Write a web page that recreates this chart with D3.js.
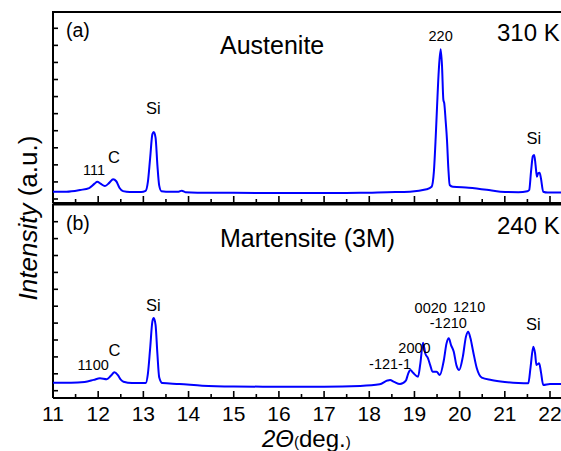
<!DOCTYPE html>
<html>
<head>
<meta charset="utf-8">
<script src="https://cdn.jsdelivr.net/npm/d3@7"></script>
<style>
    body { margin: 0; background: #fff; }
    svg text { font-family: "Liberation Sans", Arial, sans-serif; fill: #000; }
    .frame line, .frame path { stroke: #000; }
</style>
</head>
<body>
<div id="chart"></div>
<script>

// 2-theta positions (deg.) and intensity (counts)
const austeniteAngle = [11.00, 11.30, 11.60, 11.80, 11.92, 11.98, 12.05, 12.15, 12.25, 12.33, 12.40, 12.47, 12.55, 12.70,
    12.95, 13.05, 13.10, 13.15, 13.20, 13.23, 13.27, 13.31, 13.35, 13.40, 13.60, 13.78, 13.85, 13.93, 14.20, 15.00,
    16.00, 17.00, 17.80, 18.40, 18.90, 19.27, 19.38, 19.43, 19.47, 19.50, 19.54, 19.58, 19.61, 19.64, 19.66, 19.69,
    19.72, 19.75, 19.78, 19.85, 20.20, 20.60, 20.90, 21.30, 21.50, 21.54, 21.58, 21.62, 21.65, 21.68, 21.71, 21.74,
    21.77, 21.80, 21.85, 21.95, 22.30];
const austeniteCounts = [214, 214, 264, 320, 450, 507, 450, 381, 480, 577, 520, 330, 230, 205,
    205, 240, 500, 1200, 1900, 1962, 1800, 1000, 400, 230, 210, 215, 243, 200, 185, 180,
    178, 176, 180, 200, 214, 284, 360, 800, 1800, 2703, 3800, 4385, 3900, 2900, 2803, 2300,
    1728, 900, 410, 360, 330, 270, 214, 200, 230, 264, 800, 1250, 1289, 1000, 653, 760,
    770, 600, 214, 190, 190];

const martensiteAngle = [11.00, 11.40, 11.70, 11.90, 12.04, 12.19, 12.28, 12.36, 12.44, 12.50, 12.56, 12.75, 13.05,
    13.10, 13.15, 13.20, 13.23, 13.27, 13.31, 13.35, 13.42, 13.80, 14.30, 15.00, 16.00, 17.00, 17.80, 18.23, 18.40,
    18.46, 18.55, 18.68, 18.81, 18.86, 18.91, 18.97, 19.08, 19.13, 19.19, 19.24, 19.30, 19.35, 19.40, 19.49, 19.56,
    19.65, 19.71, 19.76, 19.81, 19.87, 19.93, 19.99, 20.07, 20.14, 20.19, 20.24, 20.30, 20.38, 20.49, 20.70, 21.00,
    21.30, 21.52, 21.57, 21.63, 21.67, 21.70, 21.76, 21.80, 21.85, 22.00, 22.30];
const martensiteCounts = [237, 237, 260, 320, 367, 337, 440, 544, 450, 330, 266, 225, 225,
    500, 1250, 2050, 2151, 1950, 1100, 400, 225, 200, 150, 125, 118, 118, 140, 189, 300,
    317, 260, 198, 300, 500, 612, 530, 414, 800, 1420, 1100, 958, 750, 562, 562, 464,
    900, 1400, 1550, 1350, 1154, 750, 612, 1000, 1600, 1746, 1550, 1154, 663, 385, 317, 260,
    228, 219, 700, 1302, 1100, 760, 811, 550, 169, 198, 198];

// peak labels [2theta, counts, text]
const austeniteLabels = [[11.91, 710, "111"], [12.35, 1060, "C"], [13.22, 2490, "Si"], [19.58, 4630, "220"], [21.64, 1600, "Si"]];
const martensiteLabels = [[11.89, 610, "1100"], [12.36, 1040, "C"], [13.22, 2350, "Si"], [18.46, 630, "-121-1"],
    [19.00, 1110, "2000"], [19.36, 2290, "0020"], [19.75, 1850, "-1210"], [20.21, 2340, "1210"], [21.63, 1790, "Si"]];

const majorTicks = d3.range(11, 23);
const minorTicks = d3.range(11.5, 23, 1);
const yTickValues = d3.range(0, 5001, 500);

class XrdPanel {
    constructor(svg, opts) {
        this.svg = svg;
        this.opts = opts;
    }

    initVis() {
        let vis = this;
        let o = vis.opts;

        vis.x = d3.scaleLinear().domain([11, 22]).range([53, 550]);
        vis.y = d3.scaleLinear().domain(o.yDomain).range([o.bottom, o.top]);

        vis.g = vis.svg.append("g").attr("class", "frame");

        // frame (right edge is off the picture)
        vis.g.append("path")
            .attr("d", `M${vis.x(11)},${o.bottom}V${o.top}H${vis.x(22.6)}`)
            .attr("fill", "none").attr("stroke-width", 2);
        vis.g.append("line")
            .attr("x1", vis.x(11)).attr("x2", vis.x(22.6))
            .attr("y1", o.bottom).attr("y2", o.bottom)
            .attr("stroke-width", 2);

        // x ticks pointing in
        vis.g.selectAll(".xmaj").data(majorTicks).enter().append("line")
            .attr("x1", d => vis.x(d)).attr("x2", d => vis.x(d))
            .attr("y1", o.bottom).attr("y2", o.bottom - 7)
            .attr("stroke-width", 1.6);
        vis.g.selectAll(".xmin").data(minorTicks).enter().append("line")
            .attr("x1", d => vis.x(d)).attr("x2", d => vis.x(d))
            .attr("y1", o.bottom).attr("y2", o.bottom - 4)
            .attr("stroke-width", 1.6);

        // y ticks pointing in, no labels
        vis.g.selectAll(".ytick").data(yTickValues).enter().append("line")
            .attr("x1", vis.x(11)).attr("x2", vis.x(11) + 5)
            .attr("y1", d => vis.y(d)).attr("y2", d => vis.y(d))
            .attr("stroke-width", 1.6);

        if (o.showXLabels) {
            vis.svg.selectAll(".xlab").data(majorTicks).enter().append("text")
                .attr("x", d => vis.x(d)).attr("y", o.bottom + 23)
                .attr("text-anchor", "middle")
                .attr("font-size", 21)
                .text(d => d);
        }

        vis.updateVis();
    }

    updateVis() {
        let vis = this;
        let o = vis.opts;

        const line = d3.line()
            .x(d => vis.x(d[0]))
            .y(d => vis.y(d[1]))
            .curve(d3.curveMonotoneX);

        vis.svg.append("path")
            .datum(d3.zip(o.angle, o.counts))
            .attr("d", line)
            .attr("fill", "none")
            .attr("stroke", "#0000ff")
            .attr("stroke-width", 2)
            .attr("stroke-linejoin", "round");

        vis.svg.selectAll(null).data(o.labels).enter().append("text")
            .attr("x", d => vis.x(d[0])).attr("y", d => vis.y(d[1]))
            .attr("text-anchor", "middle")
            .attr("font-size", d => (d[2] === "Si" || d[2] === "C") ? 16.5 : 14.5)
            .text(d => d[2]);

        vis.svg.append("text").attr("x", 66).attr("y", o.top + 25)
            .attr("font-size", 19.5).text(o.tag);
        vis.svg.append("text").attr("x", 220).attr("y", o.top + 42)
            .attr("font-size", 25).text(o.phase);
        vis.svg.append("text").attr("x", 497).attr("y", o.top + 29)
            .attr("font-size", 24).text(o.temp);
    }
}

const svg = d3.select("#chart").append("svg")
    .attr("width", 561).attr("height", 451);

const panelA = new XrdPanel(svg, {
    top: 12, bottom: 203, yDomain: [-117, 5477],
    angle: austeniteAngle, counts: austeniteCounts, labels: austeniteLabels,
    tag: "(a)", phase: "Austenite", temp: "310 K", showXLabels: false
});
panelA.initVis();

const panelB = new XrdPanel(svg, {
    top: 204.5, bottom: 398, yDomain: [-216, 5509],
    angle: martensiteAngle, counts: martensiteCounts, labels: martensiteLabels,
    tag: "(b)", phase: "Martensite (3M)", temp: "240 K", showXLabels: true
});
panelB.initVis();

// axis titles
const yTitle = svg.append("text")
    .attr("transform", "translate(37,218) rotate(-90)")
    .attr("text-anchor", "middle")
    .attr("font-size", 26);
yTitle.append("tspan").attr("font-style", "italic").text("Intensity");
yTitle.append("tspan").text(" (a.u.)");

const xTitle = svg.append("text")
    .attr("x", 262).attr("y", 447)
    .attr("font-size", 24);
xTitle.append("tspan").attr("font-style", "italic").text("2\u0398");
xTitle.append("tspan").attr("font-size", 15).text("(");
xTitle.append("tspan").text("deg.");
xTitle.append("tspan").attr("font-size", 15).text(")");

</script>
</body>
</html>
